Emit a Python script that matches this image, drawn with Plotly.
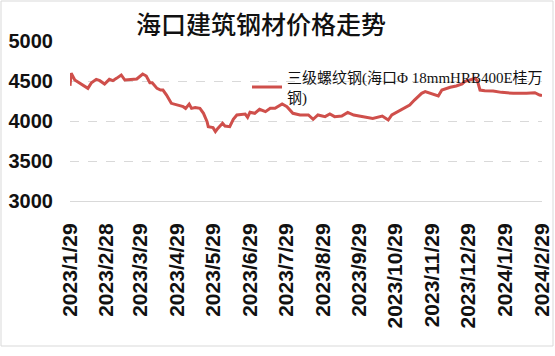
import plotly.graph_objects as go

dates = [
    "2023-01-29", "2023-01-30", "2023-02-02", "2023-02-06", "2023-02-09", "2023-02-13",
    "2023-02-16", "2023-02-20", "2023-02-23", "2023-02-27", "2023-03-03", "2023-03-06",
    "2023-03-09", "2023-03-13", "2023-03-16", "2023-03-26", "2023-03-31", "2023-04-03",
    "2023-04-06", "2023-04-08", "2023-04-12", "2023-04-15", "2023-04-17", "2023-04-20",
    "2023-04-24", "2023-04-30", "2023-05-04", "2023-05-06", "2023-05-09", "2023-05-11",
    "2023-05-14", "2023-05-18", "2023-05-21", "2023-05-24", "2023-05-25", "2023-05-29",
    "2023-05-31", "2023-06-02", "2023-06-06", "2023-06-08", "2023-06-12", "2023-06-15",
    "2023-06-18", "2023-06-25", "2023-06-27", "2023-06-29", "2023-07-03", "2023-07-07",
    "2023-07-12", "2023-07-16", "2023-07-20", "2023-07-26", "2023-07-30", "2023-08-04",
    "2023-08-10", "2023-08-17", "2023-08-21", "2023-08-25", "2023-08-31", "2023-09-04",
    "2023-09-08", "2023-09-14", "2023-09-19", "2023-09-24", "2023-09-29", "2023-10-05",
    "2023-10-10", "2023-10-18", "2023-10-20", "2023-10-23", "2023-10-26", "2023-10-31",
    "2023-11-06", "2023-11-10", "2023-11-14", "2023-11-17", "2023-11-20", "2023-11-23",
    "2023-11-27", "2023-12-04", "2023-12-07", "2023-12-11", "2023-12-14", "2023-12-19",
    "2023-12-24", "2023-12-26", "2023-12-31", "2024-01-04", "2024-01-06", "2024-01-08",
    "2024-01-12", "2024-01-19", "2024-01-26", "2024-02-05", "2024-02-16", "2024-02-23",
    "2024-02-27", "2024-02-29",
]

prices = [
    4440, 4596, 4512, 4470, 4450, 4408,
    4479, 4521, 4504, 4462, 4521, 4504,
    4533, 4575, 4512, 4525, 4587, 4562,
    4479, 4479, 4408, 4387, 4387, 4325,
    4221, 4200, 4179, 4158, 4212, 4158,
    4167, 4158, 4096, 3992, 3929, 3917,
    3867, 3908, 3971, 3937, 3929, 4021,
    4075, 4087, 4046, 4110, 4096, 4146,
    4117, 4158, 4158, 4212, 4179, 4096,
    4075, 4075, 4021, 4075, 4054, 4087,
    4054, 4062, 4108, 4075, 4062, 4054,
    4033, 4062, 4046, 4012, 4075, 4117,
    4158, 4200, 4262, 4304, 4346, 4367,
    4346, 4312, 4387, 4408, 4421, 4437,
    4462, 4492, 4512, 4533, 4492, 4387,
    4379, 4375, 4358, 4346, 4346, 4354,
    4325, 4317,
]

tick_vals = ["2023-01-29", "2023-02-28", "2023-03-29", "2023-04-29", "2023-05-29",
             "2023-06-29", "2023-07-29", "2023-08-29", "2023-09-29", "2023-10-29",
             "2023-11-29", "2023-12-29", "2024-01-29", "2024-02-29"]
tick_text = ["2023/1/29", "2023/2/28", "2023/3/29", "2023/4/29", "2023/5/29",
             "2023/6/29", "2023/7/29", "2023/8/29", "2023/9/29", "2023/10/29",
             "2023/11/29", "2023/12/29", "2024/1/29", "2024/2/29"]

y_ticks = [3000, 3500, 4000, 4500, 5000]

series_name = "三级螺纹钢(海口Φ 18mmHRB400E桂万<br>钢)"
title_text = "海口建筑钢材价格走势"

fig = go.Figure()
fig.add_trace(go.Scatter(
    x=dates, y=prices, mode="lines", name=series_name,
    line=dict(color="#cf4f4b", width=3),
))

L, R, T, B = 70, 13, 41, 155
W, H = 555, 356
pw, ph = W - L - R, H - T - B

fig.update_layout(
    width=W, height=H,
    margin=dict(l=L, r=R, t=T, b=B, autoexpand=False),
    paper_bgcolor="white", plot_bgcolor="white",
    title=dict(text=title_text, x=261 / W, xref="container", xanchor="center",
               y=1 - 25 / H, yref="container", yanchor="middle",
               font=dict(family="Noto Sans CJK SC", size=25, color="#111111", weight=500)),
    showlegend=True,
    legend=dict(x=(247 - L) / pw, xanchor="left", y=(T + ph - 61) / ph, yanchor="top",
                bgcolor="rgba(0,0,0,0)", tracegroupgap=0,
                font=dict(family="Liberation Serif, Noto Sans CJK SC", size=15, color="#111111")),
    xaxis=dict(type="date", range=["2023-01-29", "2024-02-29"], automargin=False,
               tickmode="array", tickvals=tick_vals, ticktext=tick_text,
               tickangle=-90, showgrid=False, showline=True, linecolor="#d9d9d9",
               linewidth=1, ticks="", ticklabelstandoff=13,
               tickfont=dict(family="Liberation Sans", size=21, color="#111111", weight="bold")),
    yaxis=dict(range=[3000, 5000], tickvals=y_ticks, showgrid=True, automargin=False,
               gridcolor="#d9d9d9", griddash="dash", gridwidth=1,
               zeroline=False, showline=False, ticks="", ticklabelstandoff=16,
               tickfont=dict(family="Liberation Sans", size=20, color="#111111", weight="bold")),
    shapes=[dict(type="rect", xref="paper", yref="paper",
                 x0=(1 - L) / pw, x1=(553 - L) / pw,
                 y0=(T + ph - 346) / ph, y1=(T + ph - 1) / ph,
                 line=dict(color="#d9d9d9", width=1), fillcolor="rgba(0,0,0,0)", layer="below")],
)

fig.write_html("out.html", config={"displayModeBar": False},
               post_script="document.body.style.margin='0';")
